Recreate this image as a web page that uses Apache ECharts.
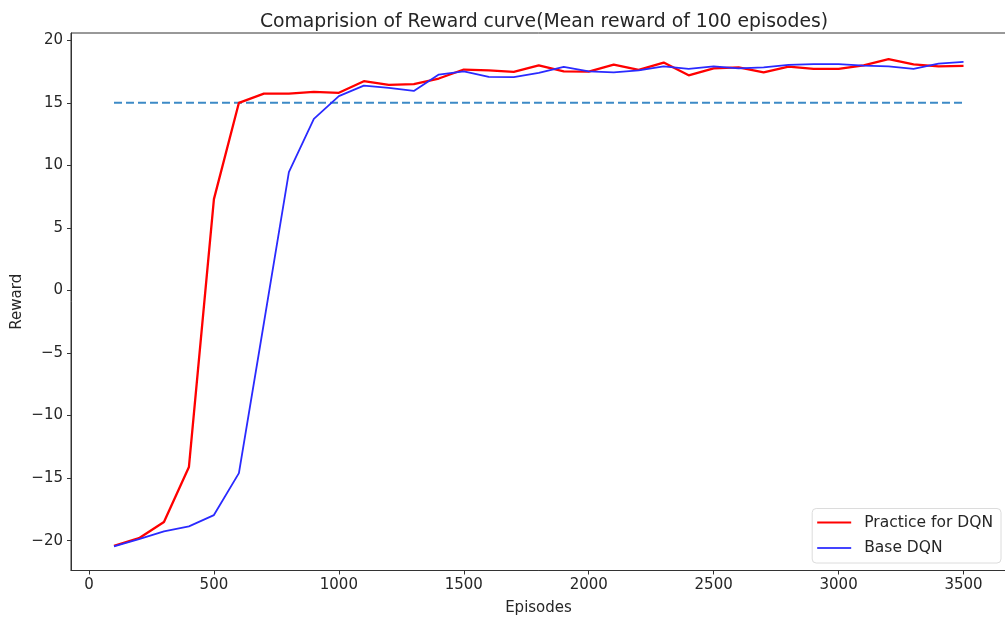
<!DOCTYPE html>
<html>
<head>
<meta charset="utf-8">
<script src="https://cdn.jsdelivr.net/npm/echarts@6/dist/echarts.min.js"></script>
<style>
    html, body {margin: 0; padding: 0; background: #fff;}
    #main {width: 1005px; height: 618px;}
</style>
</head>
<body>
<div id="main"></div>
<script>
// episodes (x), one point every 100 episodes
const episodes = [100, 200, 300, 400, 500, 600, 700, 800, 900, 1000,
    1100, 1200, 1300, 1400, 1500, 1600, 1700, 1800, 1900, 2000,
    2100, 2200, 2300, 2400, 2500, 2600, 2700, 2800, 2900, 3000,
    3100, 3200, 3300, 3400, 3500];

// mean reward of last 100 episodes
const practice_dqn = [-20.4, -19.8, -18.5, -14.1, 7.3, 15.0, 15.74, 15.74, 15.87, 15.8,
    16.73, 16.43, 16.5, 16.94, 17.66, 17.6, 17.47, 18.0, 17.52, 17.5,
    18.06, 17.63, 18.22, 17.2, 17.76, 17.84, 17.44, 17.9, 17.71, 17.71,
    18.0, 18.5, 18.08, 17.92, 17.95];

const base_dqn = [-20.45, -19.87, -19.25, -18.85, -17.95, -14.6, -2.6, 9.46, 13.72, 15.53,
    16.38, 16.2, 15.95, 17.26, 17.52, 17.07, 17.05, 17.39, 17.87, 17.52,
    17.44, 17.6, 17.92, 17.71, 17.92, 17.76, 17.84, 18.03, 18.1, 18.1,
    17.98, 17.92, 17.71, 18.14, 18.27];

const target_x = [100, 3500];
const target_y = [15, 15];

const x_ticks = [0, 500, 1000, 1500, 2000, 2500, 3000, 3500];
const y_ticks = [-20, -15, -10, -5, 0, 5, 10, 15, 20];

const font = 'DejaVu Sans';
const text_color = '#262626';

let chart = echarts.init(document.getElementById('main'), null, {renderer: 'canvas'});

let option = {
    backgroundColor: '#ffffff',
    animation: false,
    title: {
        text: 'Comaprision of Reward curve(Mean reward of 100 episodes)',
        left: 539, top: 8, textAlign: 'center',
        textStyle: {fontFamily: font, fontSize: 18.8, fontWeight: 'normal', color: text_color}
    },
    grid: {
        left: 71, right: -1, top: 33, bottom: 47.5,
        outerBoundsMode: 'none', containLabel: false,
        show: true, borderColor: '#333', borderWidth: 1, backgroundColor: 'transparent'
    },
    legend: {
        orient: 'vertical', right: 4, bottom: 55,
        data: [
            {name: 'Practice for DQN', itemStyle: {color: '#ff0000'}},
            {name: 'Base DQN', itemStyle: {color: '#4444ff'}}
        ],
        icon: 'rect', itemWidth: 34, itemHeight: 2.2, itemGap: 9.5,
        padding: [6, 8, 7, 5],
        backgroundColor: 'rgba(255,255,255,0.8)',
        borderColor: '#dcdcdc', borderWidth: 1, borderRadius: 4,
        textStyle: {fontFamily: font, fontSize: 15.5, color: text_color, padding: [0, 0, 0, 8]}
    },
    xAxis: {
        type: 'value', min: -72, max: 3670,
        name: 'Episodes', nameLocation: 'middle', nameGap: 30, nameMoveOverlap: false,
        nameTextStyle: {fontFamily: font, fontSize: 15, color: text_color},
        axisLine: {show: true, onZero: false, lineStyle: {color: '#333', width: 1}},
        axisTick: {show: true, length: 4, customValues: x_ticks, lineStyle: {color: '#333'}},
        axisLabel: {
            customValues: x_ticks, fontFamily: font, fontSize: 15, color: text_color, margin: 7,
            formatter: v => '' + v
        },
        splitLine: {show: false}
    },
    yAxis: {
        type: 'value', min: -22.38, max: 20.58,
        name: 'Reward', nameLocation: 'middle', nameGap: 46, nameMoveOverlap: false,
        nameTextStyle: {fontFamily: font, fontSize: 15, color: text_color},
        axisLine: {show: true, onZero: false, lineStyle: {color: '#333', width: 1}},
        axisTick: {show: true, length: 4, customValues: y_ticks, lineStyle: {color: '#333'}},
        axisLabel: {
            customValues: y_ticks, fontFamily: font, fontSize: 15, color: text_color, margin: 8,
            formatter: v => (v < 0 ? '\u2212' + Math.abs(v) : '' + v)
        },
        splitLine: {show: false}
    },
    series: [
        {
            name: 'target', type: 'line', showSymbol: false, silent: true,
            data: target_x.map((x, i) => [x, target_y[i]]),
            lineStyle: {color: '#3d8ac6', width: 2, type: [8, 4]},
            z: 1
        },
        {
            name: 'Practice for DQN', type: 'line', showSymbol: false,
            data: episodes.map((x, i) => [x, practice_dqn[i]]),
            itemStyle: {color: '#ff0000'},
            lineStyle: {color: '#ff0000', width: 2.3},
            z: 2
        },
        {
            name: 'Base DQN', type: 'line', showSymbol: false,
            data: episodes.map((x, i) => [x, base_dqn[i]]),
            itemStyle: {color: '#2a2aff'},
            lineStyle: {color: '#2a2aff', width: 1.8},
            z: 3
        }
    ]
};

chart.setOption(option);
</script>
</body>
</html>
